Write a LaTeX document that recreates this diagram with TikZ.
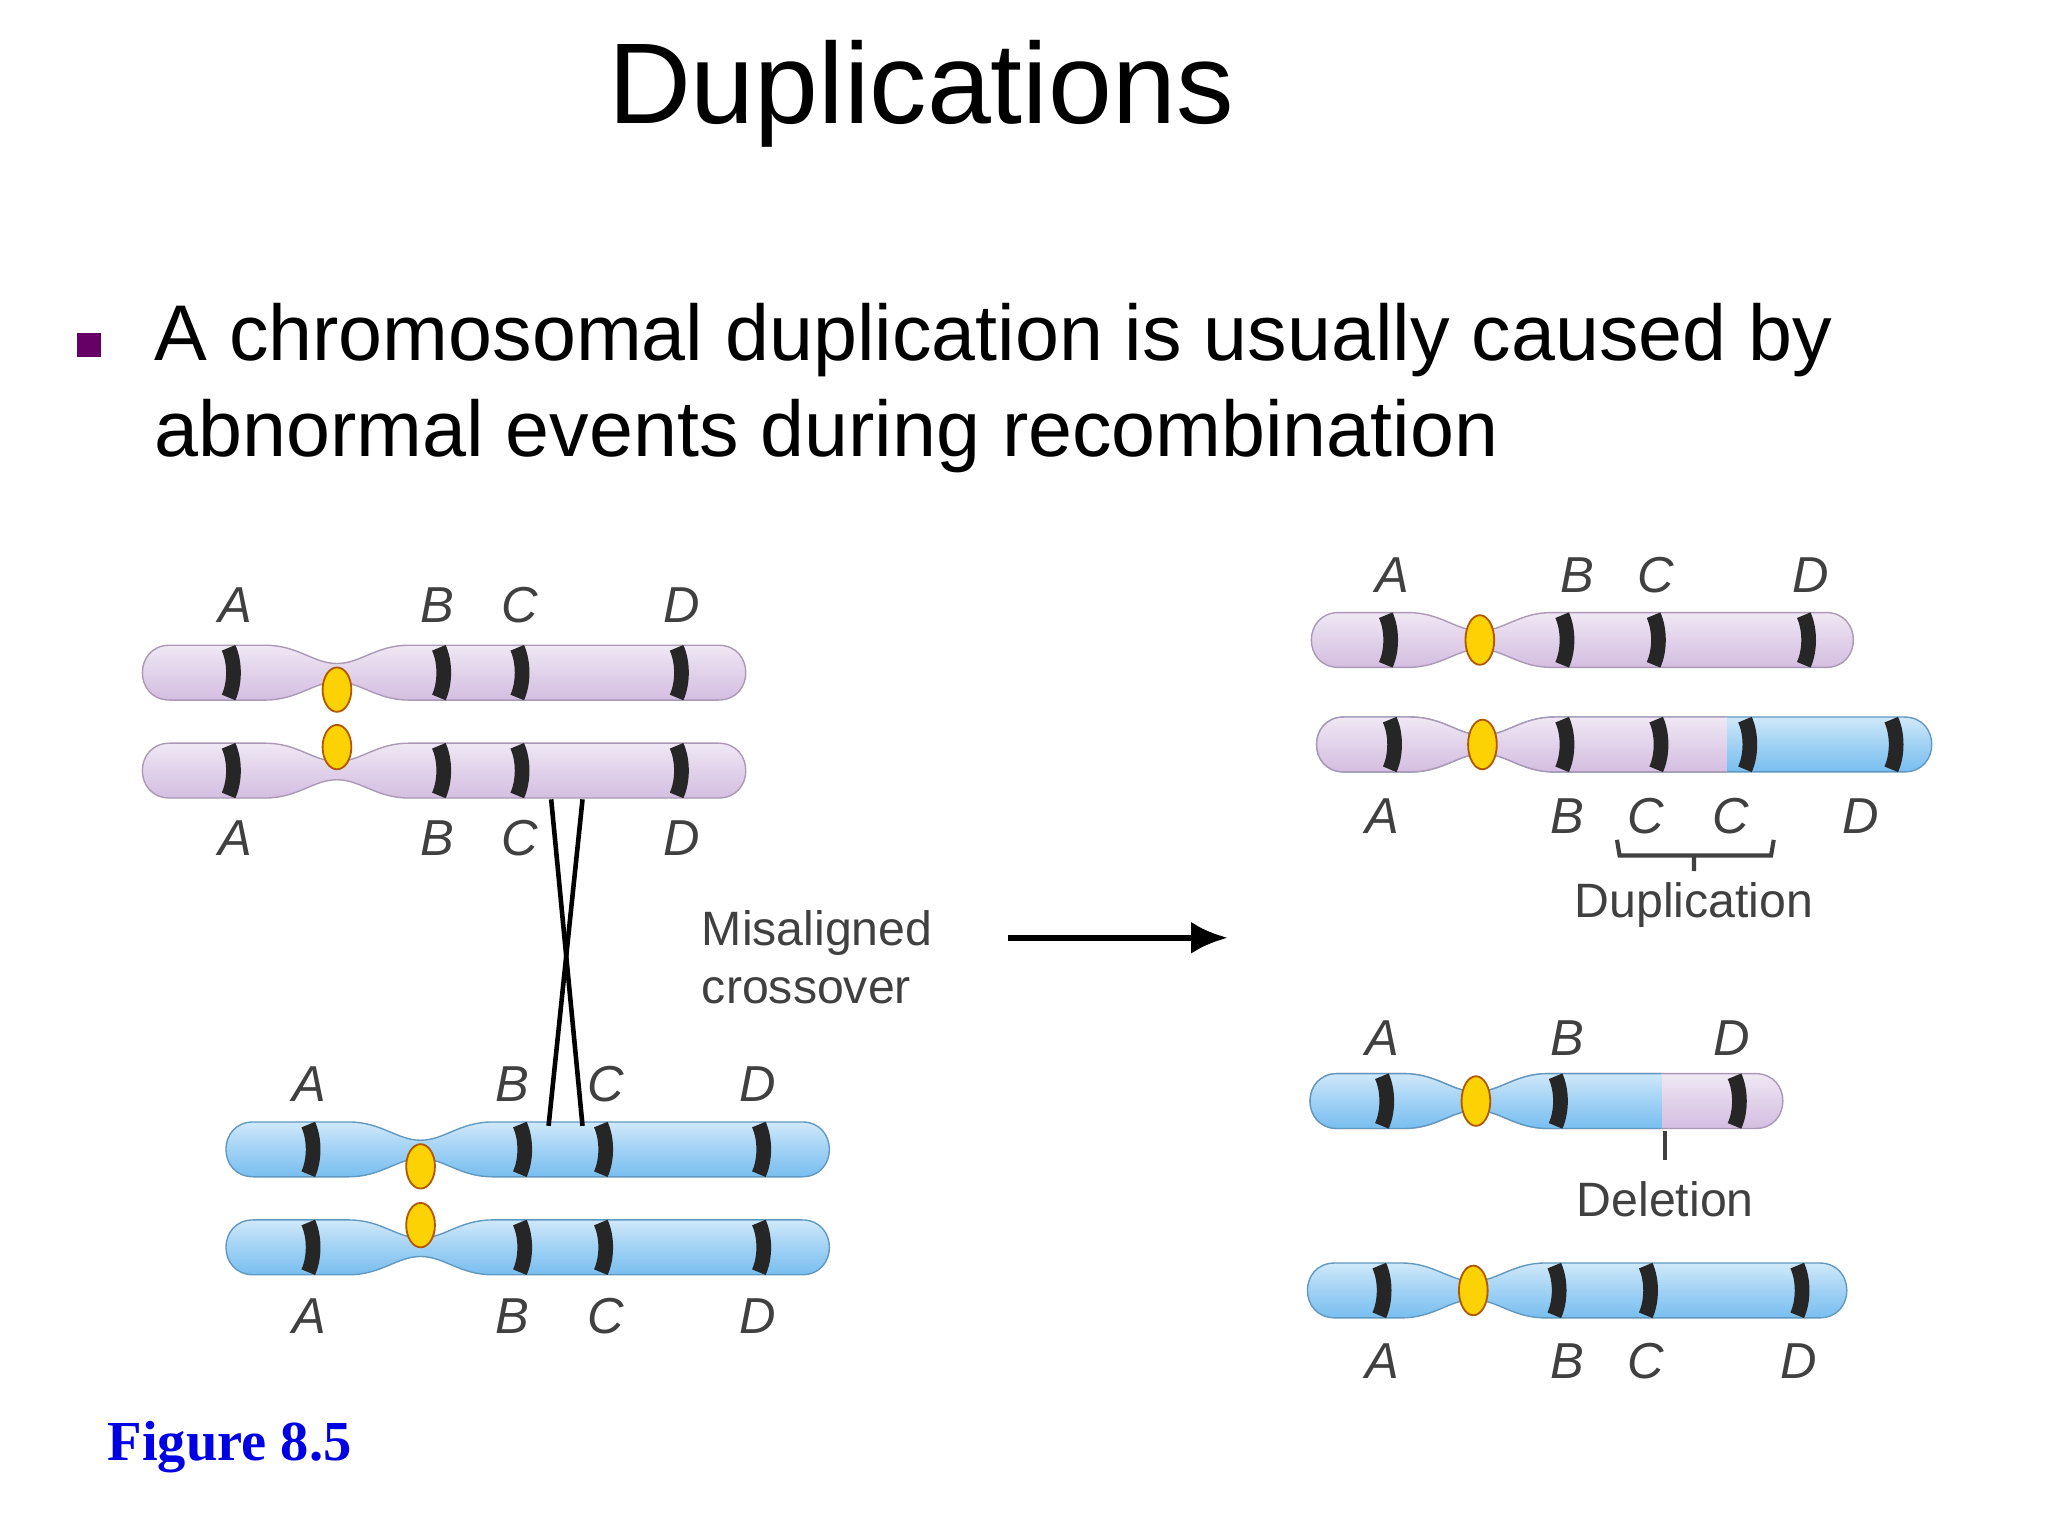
\documentclass[tikz,border=0pt]{standalone}
\usepackage{fontspec}
\usetikzlibrary{arrows.meta}
\setmainfont{Liberation Sans}
\newfontfamily\serifx{Liberation Serif}
\begin{document}
\begin{tikzpicture}[x=0.01cm,y=-0.01cm,
 lab/.style={font=\fontsize{11}{13}\selectfont\itshape, text=black!75},
 txt/.style={font=\fontsize{10.5}{12.5}\selectfont, text=black!75, align=left},
 band/.style={line width=3.2pt, black!85},
 cen/.style={fill=yellow!70!orange, draw=orange!70!black, line width=0.4pt}]
\definecolor{pur}{RGB}{212,190,225}
\definecolor{blu}{RGB}{120,190,240}
\useasboundingbox (0,0) rectangle (1568,1176);
\newcommand\chrpath[4]{({#1+22},{#4-21}) -- ({#2-55},{#4-21}) .. controls ({#2-30},{#4-21}) and ({#2-18},{#4-7}) .. (#2,{#4-7}) .. controls ({#2+18},{#4-7}) and ({#2+30},{#4-21}) .. ({#2+55},{#4-21}) -- ({#3-22},{#4-21}) .. controls ({#3+6},{#4-21}) and ({#3+6},{#4+21}) .. ({#3-22},{#4+21}) -- ({#2+55},{#4+21}) .. controls ({#2+30},{#4+21}) and ({#2+18},{#4+7}) .. (#2,{#4+7}) .. controls ({#2-18},{#4+7}) and ({#2-30},{#4+21}) .. ({#2-55},{#4+21}) -- ({#1+22},{#4+21}) .. controls ({#1-6},{#4+21}) and ({#1-6},{#4-21}) .. ({#1+22},{#4-21}) -- cycle}
\newcommand\chrfill[5]{\shade[top color=#5!35!white, bottom color=#5, middle color=#5!70!white, draw=#5!80!black, line width=0.3pt] \chrpath{#1}{#2}{#3}{#4};}
\newcommand\bnd[2]{\draw[band] ({#1-2},{#2-19}) .. controls ({#1+3},{#2-8}) and ({#1+3},{#2+8}) .. ({#1-2},{#2+19});}
\node (title) at (705,72) {\fontsize{25}{30}\selectfont Duplications};
\fill[violet!80!black] (59,255) rectangle (77,273);
\node[anchor=west, align=left, font=\fontsize{17.2}{20.8}\selectfont] (bul) at (106,297) {A chromosomal duplication is usually caused by\\abnormal events during recombination};
\node[anchor=west, text=blue!90!black, font=\serifx\bfseries\fontsize{12.3}{15}\selectfont] (fig) at (70,1108) {Figure 8.5};
\chrfill{108}{258}{572}{515}{pur}
\chrfill{108}{258}{572}{590}{pur}
\foreach \x in {177,338,398,520}{\bnd{\x}{515}\bnd{\x}{590}}
\draw[cen] (258,528) ellipse (11 and 17);
\draw[cen] (258,572) ellipse (11 and 17);
\foreach \x/\t in {180/A,335/B,398/C,522/D}{\node[lab] at (\x,463) {\t}; \node[lab] at (\x,642) {\t};}
\chrfill{172}{322}{636}{880}{blu}
\chrfill{172}{322}{636}{955}{blu}
\foreach \x in {238,400,462,583}{\bnd{\x}{880}\bnd{\x}{955}}
\draw[cen] (322,893) ellipse (11 and 17);
\draw[cen] (322,938) ellipse (11 and 17);
\foreach \x/\t in {237/A,392/B,464/C,580/D}{\node[lab] at (\x,830) {\t}; \node[lab] at (\x,1008) {\t};}
\coordinate (x1) at (422,612); \coordinate (x2) at (446,862);
\coordinate (x3) at (446,612); \coordinate (x4) at (420,862);
\draw[line width=1pt] (x1) -- (x2); \draw[line width=1pt] (x3) -- (x4);
\node[txt, anchor=west] (mis) at (525,733) {Misaligned\\crossover};
\coordinate (a1) at (772,718); \coordinate (a2) at (940,718);
\draw[line width=1.3pt, -{Latex[length=8pt,width=7pt]}] (a1) -- (a2);
\chrfill{1003}{1133}{1420}{490}{pur}
\foreach \x in {1063,1198,1268,1383}{\bnd{\x}{490}}
\draw[cen] (1133,490) ellipse (11 and 19);
\foreach \x/\t in {1066/A,1208/B,1268/C,1386/D}{\node[lab] at (\x,440) {\t};}
\chrfill{1007}{1135}{1480}{570}{blu}
\begin{scope}\clip (1000,540) rectangle (1322,600);\chrfill{1007}{1135}{1480}{570}{pur}\end{scope}
\foreach \x in {1066,1198,1270,1338,1450}{\bnd{\x}{570}}
\draw[cen] (1135,570) ellipse (11 and 19);
\foreach \x/\t in {1058/A,1200/B,1260/C,1325/C,1425/D}{\node[lab] at (\x,625) {\t};}
\draw[black!75, line width=0.9pt] (1238,643) -- (1240,655) -- (1356,655) -- (1358,643) (1297,655) -- (1297,667);
\node[txt] (dup) at (1297,693) {Duplication};
\chrfill{1002}{1130}{1366}{843}{pur}
\begin{scope}\clip (990,810) rectangle (1272,880);\chrfill{1002}{1130}{1366}{843}{blu}\end{scope}
\foreach \x in {1060,1193,1330}{\bnd{\x}{843}}
\draw[cen] (1130,843) ellipse (11 and 19);
\foreach \x/\t in {1058/A,1200/B,1326/D}{\node[lab] at (\x,795) {\t};}
\draw[black!75, line width=0.9pt] (1275,866) -- (1275,888);
\node[txt] (del) at (1275,918) {Deletion};
\chrfill{1000}{1128}{1415}{988}{blu}
\foreach \x in {1058,1192,1262,1378}{\bnd{\x}{988}}
\draw[cen] (1128,988) ellipse (11 and 19);
\foreach \x/\t in {1058/A,1200/B,1260/C,1377/D}{\node[lab] at (\x,1042) {\t};}
\end{tikzpicture}
\end{document}
